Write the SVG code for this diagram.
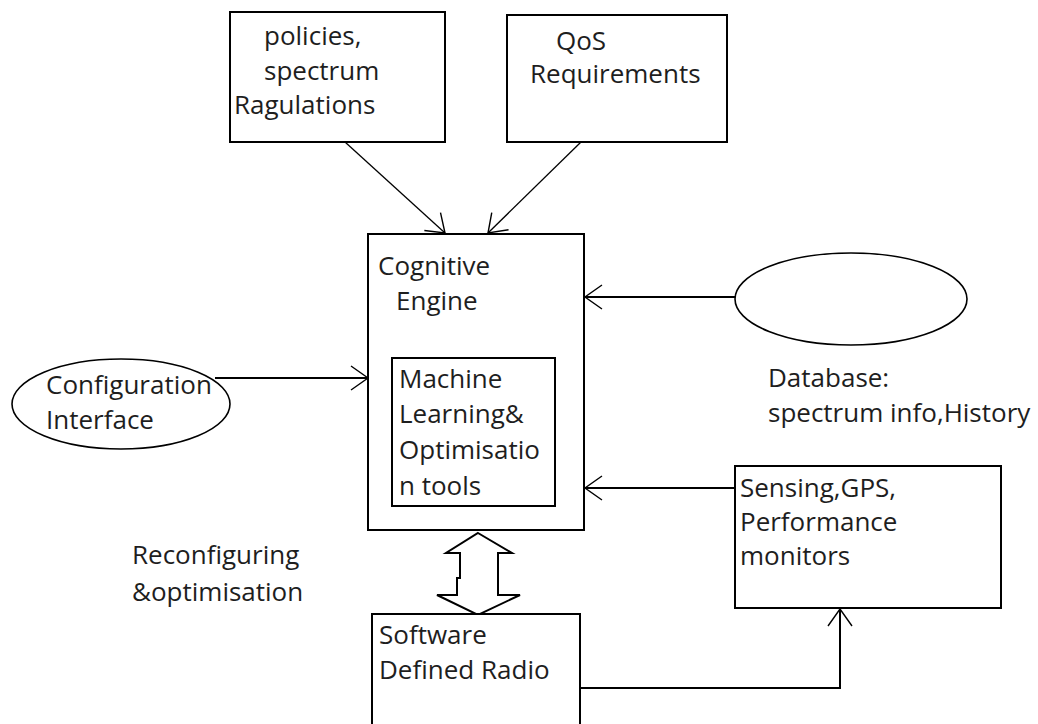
<svg xmlns="http://www.w3.org/2000/svg" width="1038" height="724" viewBox="0 0 1038 724">
<style>
.box{fill:#fff;stroke:#000;stroke-width:2}
.ell{fill:#fff;stroke:#000;stroke-width:1.6}
.ln{fill:none;stroke:#000;stroke-width:2}
.thin{fill:none;stroke:#000;stroke-width:1.3}
text{font-family:"Open Sans","Noto Sans",sans-serif;font-size:26px;fill:#1e1e1e}
</style>
<defs>
<marker id="ah" markerUnits="userSpaceOnUse" markerWidth="40" markerHeight="40" refX="0" refY="0" viewBox="-20 -20 40 40" orient="auto" overflow="visible">
<path d="M -17 -12 L 0 0 L -17 12" fill="none" stroke="#000" stroke-width="1.4"/>
</marker>
</defs>
<rect width="1038" height="724" fill="#fff"/>
<g id="connectors">
<line class="thin" x1="345" y1="142" x2="445" y2="233" marker-end="url(#ah)"/>
<line class="thin" x1="581" y1="142" x2="488" y2="233" marker-end="url(#ah)"/>
<line class="ln" x1="735" y1="297" x2="585" y2="297" marker-end="url(#ah)"/>
<line class="ln" x1="215" y1="378" x2="368" y2="378" marker-end="url(#ah)"/>
<line class="ln" x1="735" y1="488" x2="585" y2="488" marker-end="url(#ah)"/>
<polyline class="ln" points="580,688 840,688 840,609" marker-end="url(#ah)"/>
<polygon fill="#fff" stroke="#000" stroke-width="2" stroke-linejoin="miter" points="478,533 512,553 498,553 498,595 520,595 478,615 437,595 457,595 457,578 460,578 460,553 446,553"/>
</g>
<g id="policies">
<rect class="box" x="230" y="12" width="215" height="130"/>
<text x="264" y="45">policies,</text>
<text x="264" y="80">spectrum</text>
<text x="234" y="114">Ragulations</text>
</g>
<g id="qos">
<rect class="box" x="507" y="15" width="220" height="127"/>
<text x="556" y="50">QoS</text>
<text x="530" y="83">Requirements</text>
</g>
<g id="cognitive-engine">
<rect class="box" x="368" y="234" width="216" height="296"/>
<text x="378" y="275">Cognitive</text>
<text x="396" y="310">Engine</text>
</g>
<g id="ml-tools">
<rect class="box" x="392" y="358" width="163" height="148"/>
<text x="399" y="388">Machine</text>
<text x="399" y="423">Learning&amp;</text>
<text x="399" y="459">Optimisatio</text>
<text x="399" y="495">n tools</text>
</g>
<g id="database">
<ellipse class="ell" cx="851" cy="299" rx="116" ry="46"/>
<text x="768" y="387">Database:</text>
<text x="768" y="422">spectrum info,History</text>
</g>
<g id="config-interface">
<ellipse class="ell" cx="121" cy="404" rx="109" ry="45"/>
<text x="46" y="394">Configuration</text>
<text x="46" y="429">Interface</text>
</g>
<g id="sensing">
<rect class="box" x="735" y="466" width="266" height="142"/>
<text x="740" y="497">Sensing,GPS,</text>
<text x="740" y="531">Performance</text>
<text x="740" y="565">monitors</text>
</g>
<g id="reconfig-label">
<text x="132" y="564">Reconfiguring</text>
<text x="132" y="601">&amp;optimisation</text>
</g>
<g id="sdr">
<rect class="box" x="372" y="614" width="208" height="120"/>
<text x="379" y="644">Software</text>
<text x="379" y="679">Defined Radio</text>
</g>
</svg>
